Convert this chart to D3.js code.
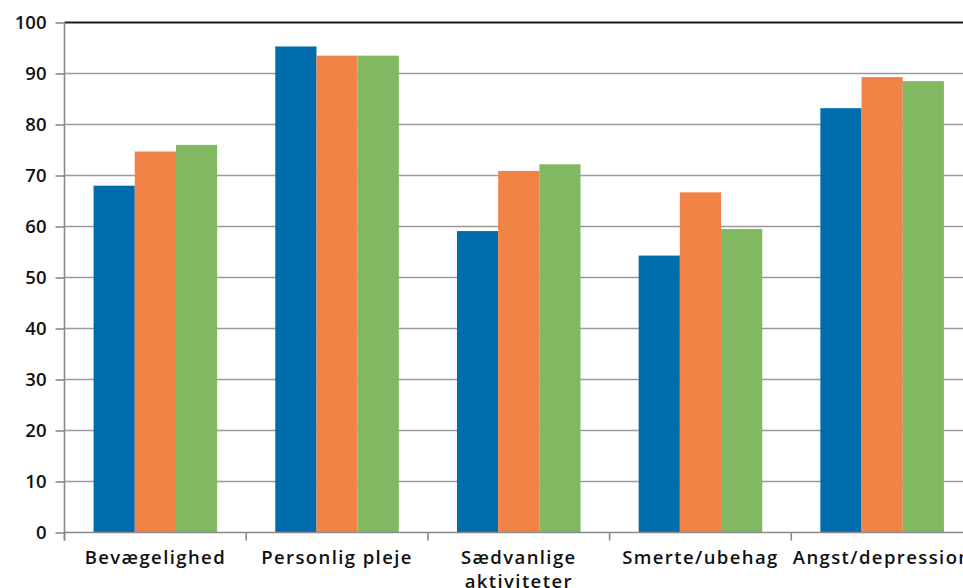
<!DOCTYPE html>
<html>
<head>
<meta charset="utf-8">
<script src="https://cdn.jsdelivr.net/npm/d3@7"></script>
<style>
  html, body { margin: 0; padding: 0; background: #fff; overflow: hidden; }
  svg { display: block; }
  text { font-family: "Open Sans", "DejaVu Sans", sans-serif; fill: #111; }
</style>
</head>
<body>
<svg id="chart" width="963" height="588"></svg>
<script>
// EQ-5D dimensions and the three groups' scores
const categories = ["Bevægelighed", "Personlig pleje", "Sædvanlige\naktiviteter", "Smerte/ubehag", "Angst/depression"];
const seriesBlue   = [68.0, 95.3, 59.1, 54.3, 83.2];
const seriesOrange = [74.7, 93.5, 70.9, 66.7, 89.3];
const seriesGreen  = [76.0, 93.5, 72.2, 59.5, 88.5];
const seriesColors = ["#006bad", "#f28346", "#80b962"];
const yTicks = [0, 10, 20, 30, 40, 50, 60, 70, 80, 90, 100];

const series = [seriesBlue, seriesOrange, seriesGreen];
const svg = d3.select("#chart");

const plotLeft = 64.5, plotRight = 973, plotTop = 22.5, plotBottom = 532.5;

const x0 = d3.scaleBand()
  .domain(categories)
  .range([plotLeft, plotRight])
  .paddingInner(0.32)
  .paddingOuter(0.16);

const x1 = d3.scaleBand()
  .domain(d3.range(series.length))
  .range([0, x0.bandwidth()])
  .padding(0);

const y = d3.scaleLinear().domain([0, 100]).range([plotBottom, plotTop]);

// horizontal gridlines (top one dark)
svg.append("g")
  .selectAll("line")
  .data(yTicks.filter(d => d > 0))
  .join("line")
  .attr("x1", plotLeft).attr("x2", plotRight)
  .attr("y1", d => y(d)).attr("y2", d => y(d))
  .attr("stroke", d => d === 100 ? "#1a1a1a" : "#9a9a9a")
  .attr("stroke-width", d => d === 100 ? 2 : 1.6);

// bars
const groups = svg.append("g")
  .selectAll("g")
  .data(categories)
  .join("g")
  .attr("transform", c => `translate(${x0(c)},0)`);

groups.selectAll("rect")
  .data((c, i) => series.map((s, k) => ({ k, v: s[i] })))
  .join("rect")
  .attr("x", d => x1(d.k))
  .attr("width", x1.bandwidth())
  .attr("y", d => y(d.v))
  .attr("height", d => y(0) - y(d.v))
  .attr("fill", d => seriesColors[d.k]);

// y axis
const yAxis = svg.append("g")
  .attr("transform", `translate(${plotLeft},0)`)
  .call(d3.axisLeft(y).tickValues(yTicks).tickSize(9).tickPadding(9));
yAxis.select(".domain").attr("stroke", "#8a8a8a").attr("stroke-width", 1.6)
  .attr("d", `M0,${plotBottom + 8}V${plotTop}`);
yAxis.selectAll(".tick line").attr("stroke", "#8a8a8a").attr("stroke-width", 1.6);
yAxis.selectAll(".tick text")
  .style("font-size", "18.5px").style("font-weight", "600")
  .attr("fill", "#111");

// x axis baseline and category separators
svg.append("line")
  .attr("x1", plotLeft).attr("x2", plotRight)
  .attr("y1", plotBottom).attr("y2", plotBottom)
  .attr("stroke", "#8a8a8a").attr("stroke-width", 1.6);

const step = x0.step();
svg.append("g")
  .selectAll("line")
  .data(d3.range(categories.length + 1))
  .join("line")
  .attr("x1", i => plotLeft + i * step).attr("x2", i => plotLeft + i * step)
  .attr("y1", plotBottom).attr("y2", plotBottom + 8)
  .attr("stroke", "#8a8a8a").attr("stroke-width", 1.6);

// category labels
const labels = svg.append("g")
  .selectAll("text")
  .data(categories)
  .join("text")
  .attr("x", c => x0(c) + x0.bandwidth() / 2)
  .attr("y", 564)
  .attr("text-anchor", "middle")
  .style("font-size", "18.5px")
  .style("font-weight", "600")
  .style("letter-spacing", "1.4px");

labels.selectAll("tspan")
  .data(c => c.split("\n"))
  .join("tspan")
  .attr("x", function () { return d3.select(this.parentNode).attr("x"); })
  .attr("dy", (d, i) => i === 0 ? 0 : 23.5)
  .text(d => d);
</script>
</body>
</html>
